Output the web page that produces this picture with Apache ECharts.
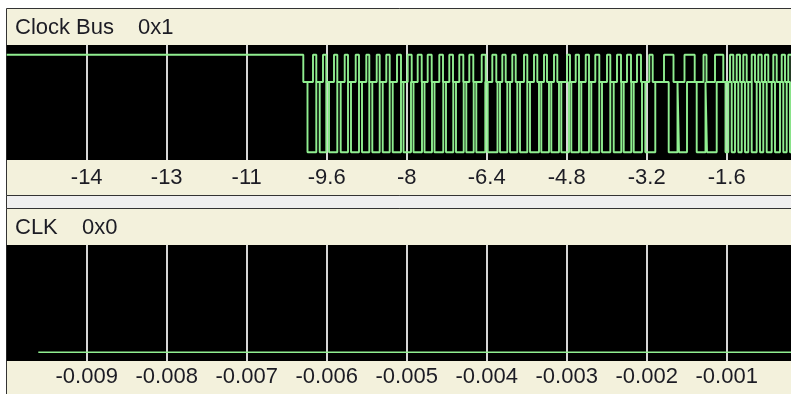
<!DOCTYPE html>
<html>
<head>
<meta charset="utf-8">
<script src="https://cdn.jsdelivr.net/npm/echarts@6/dist/echarts.min.js"></script>
<style>
html,body{margin:0;padding:0;background:#fff;}
#c{width:791px;height:394px;}
</style>
</head>
<body>
<div id="c"></div>
<script>
// ---- data (time units of each panel's axis) ----
const LOW = 0, MID = 0.72, HIGH = 1;

const topTitle = 'Clock Bus', topValue = '0x1';
const bottomTitle = 'CLK', bottomValue = '0x0';

const topTicks = [-14.4, -12.8, -11.2, -9.6, -8, -6.4, -4.8, -3.2, -1.6];
const topTickLabels = ['-14', '-13', '-11', '-9.6', '-8', '-6.4', '-4.8', '-3.2', '-1.6'];
const bottomTicks = [-0.009, -0.008, -0.007, -0.006, -0.005, -0.004, -0.003, -0.002, -0.001];
const bottomTickLabels = ['-0.009', '-0.008', '-0.007', '-0.006', '-0.005', '-0.004', '-0.003', '-0.002', '-0.001'];

// upper trace: high until switch, then rests at MID with pulses to HIGH
const topStart = [-16, -10.068];
const topPulses = [
  [-9.874,-9.808],[-9.674,-9.608],[-9.454,-9.388],[-9.240,-9.174],[-9.020,-8.954],[-8.808,-8.748],
  [-8.600,-8.540],[-8.408,-8.340],[-8.194,-8.114],[-7.980,-7.900],[-7.780,-7.700],[-7.580,-7.500],
  [-7.348,-7.274],[-7.148,-7.074],[-6.948,-6.868],[-6.748,-6.668],[-6.500,-6.420],[-6.288,-6.208],
  [-6.088,-6.020],[-5.888,-5.820],[-5.654,-5.588],[-5.454,-5.388],[-5.254,-5.194],[-5.054,-4.988],
  [-4.794,-4.734],[-4.620,-4.554],[-4.420,-4.354],[-4.228,-4.148],[-3.994,-3.928],[-3.794,-3.714],
  [-3.594,-3.514],[-3.394,-3.314],[-3.148,-3.080],[-2.854,-2.664],[-2.444,-2.240],[-2.064,-2.004],
  [-1.834,-1.668],[-1.534,-1.468],[-1.400,-1.334],[-1.268,-1.200],[-1.100,-1.034],[-0.968,-0.900],
  [-0.834,-0.768],[-0.668,-0.600],[-0.500,-0.434],[-0.368,-0.300]
];
// lower trace: starts at MID, drops to LOW, pulses up to MID
const bottomStart = [-10.068, -9.984];
const bottomPulses = [
  [-9.808,-9.740],[-9.608,-9.554],[-9.388,-9.320],[-9.174,-9.114],[-8.954,-8.894],[-8.748,-8.688],
  [-8.540,-8.480],[-8.340,-8.280],[-8.114,-8.064],[-7.914,-7.864],[-7.694,-7.644],[-7.494,-7.444],
  [-7.268,-7.214],[-7.068,-7.014],[-6.860,-6.808],[-6.660,-6.608],[-6.428,-6.380],[-6.184,-6.134],
  [-5.988,-5.934],[-5.788,-5.734],[-5.588,-5.534],[-5.354,-5.308],[-5.154,-5.108],[-4.954,-4.908],
  [-4.754,-4.708],[-4.554,-4.508],[-4.354,-4.308],[-4.148,-4.094],[-3.928,-3.860],[-3.708,-3.660],
  [-3.508,-3.460],[-3.294,-3.228],[-3.028,-2.760],[-2.584,-2.554],[-2.394,-2.200],[-2.024,-1.994],
  [-1.800,-1.624],[-1.568,-1.500],[-1.434,-1.368],[-1.300,-1.234],[-1.168,-1.100],[-1.000,-0.934],
  [-0.868,-0.800],[-0.700,-0.634],[-0.534,-0.468],[-0.400,-0.334]
];
// CLK panel: constant low
const clkStart = -0.009605;
const clkLevel = LOW;

// ---- build step data ----
function buildTrace(start, startLevel, base, peak, pulses, endT) {
  const d = [[start[0], startLevel], [start[1], base]];
  pulses.forEach(p => { d.push([p[0], peak]); d.push([p[1], base]); });
  d.push([endT, base]);
  return d;
}
const topData = buildTrace(topStart, HIGH, MID, HIGH, topPulses, 0);
const bottomData = buildTrace(bottomStart, MID, LOW, MID, bottomPulses, 0);
const clkData = [[clkStart, clkLevel], [0, clkLevel]];

function fmt(ticks, labels) {
  return v => {
    const i = ticks.findIndex(t => Math.abs(t - v) < 1e-7);
    return i >= 0 ? labels[i] : '';
  };
}

const FONT = '"Liberation Sans", Arial, sans-serif';
const TXT = '#1c1c24';
const BEIGE = '#f3f1dc';
const GRIDC = '#d6d6d6';
const GREEN = '#90ee90';

const chart = echarts.init(document.getElementById('c'), null, {renderer: 'canvas'});
chart.setOption({
  animation: false,
  backgroundColor: '#ffffff',
  graphic: [
    {type: 'rect', z: -100, shape: {x: 6.5, y: 8.5, width: 800, height: 187}, style: {fill: BEIGE, stroke: '#333', lineWidth: 1}},
    {type: 'rect', z: -100, shape: {x: 6.5, y: 195.5, width: 800, height: 13}, style: {fill: '#efefef', stroke: '#333', lineWidth: 1}},
    {type: 'rect', z: -100, shape: {x: 6.5, y: 208.5, width: 800, height: 200}, style: {fill: BEIGE, stroke: '#333', lineWidth: 1}},
    {type: 'text', z: 100, x: 15, y: 28, style: {text: topTitle, fill: TXT, font: '22px ' + FONT, verticalAlign: 'middle'}},
    {type: 'text', z: 100, x: 138, y: 28, style: {text: topValue, fill: TXT, font: '22px ' + FONT, verticalAlign: 'middle'}},
    {type: 'text', z: 100, x: 15, y: 228, style: {text: bottomTitle, fill: TXT, font: '22px ' + FONT, verticalAlign: 'middle'}},
    {type: 'text', z: 100, x: 82, y: 228, style: {text: bottomValue, fill: TXT, font: '22px ' + FONT, verticalAlign: 'middle'}}
  ],
  grid: [
    {left: 6.7, top: 45, width: 800, height: 115, show: true, backgroundColor: '#000', borderWidth: 0, containLabel: false, outerBoundsMode: 'none'},
    {left: 6.7, top: 245, width: 800, height: 116, show: true, backgroundColor: '#000', borderWidth: 0, containLabel: false, outerBoundsMode: 'none'}
  ],
  xAxis: [
    {type: 'value', gridIndex: 0, min: -16, max: 0, interval: 1.6,
     axisLine: {show: false}, axisTick: {show: false},
     splitLine: {show: true, showMinLine: false, showMaxLine: false, lineStyle: {color: GRIDC, width: 2}},
     axisLabel: {show: true, margin: 7, color: TXT, fontSize: 22, fontFamily: FONT, formatter: fmt(topTicks, topTickLabels), showMinLabel: true, showMaxLabel: true}},
    {type: 'value', gridIndex: 1, min: -0.01, max: 0, interval: 0.001,
     axisLine: {show: false}, axisTick: {show: false},
     splitLine: {show: true, showMinLine: false, showMaxLine: false, lineStyle: {color: GRIDC, width: 2}},
     axisLabel: {show: true, margin: 5, color: TXT, fontSize: 22, fontFamily: FONT, formatter: fmt(bottomTicks, bottomTickLabels), showMinLabel: true, showMaxLabel: true}}
  ],
  yAxis: [
    {type: 'value', gridIndex: 0, min: -0.08, max: 1.1, show: false, splitLine: {show: false}},
    {type: 'value', gridIndex: 1, min: -0.09, max: 1.1, show: false, splitLine: {show: false}}
  ],
  series: [
    {type: 'line', xAxisIndex: 0, yAxisIndex: 0, step: 'end', data: topData, showSymbol: false, symbol: 'none',
     lineStyle: {color: GREEN, width: 1.9}, silent: true, z: 5},
    {type: 'line', xAxisIndex: 0, yAxisIndex: 0, step: 'end', data: bottomData, showSymbol: false, symbol: 'none',
     lineStyle: {color: GREEN, width: 1.9}, silent: true, z: 5},
    {type: 'line', xAxisIndex: 1, yAxisIndex: 1, step: 'end', data: clkData, showSymbol: false, symbol: 'none',
     lineStyle: {color: GREEN, width: 1.3}, silent: true, z: 5}
  ]
});
</script>
</body>
</html>
